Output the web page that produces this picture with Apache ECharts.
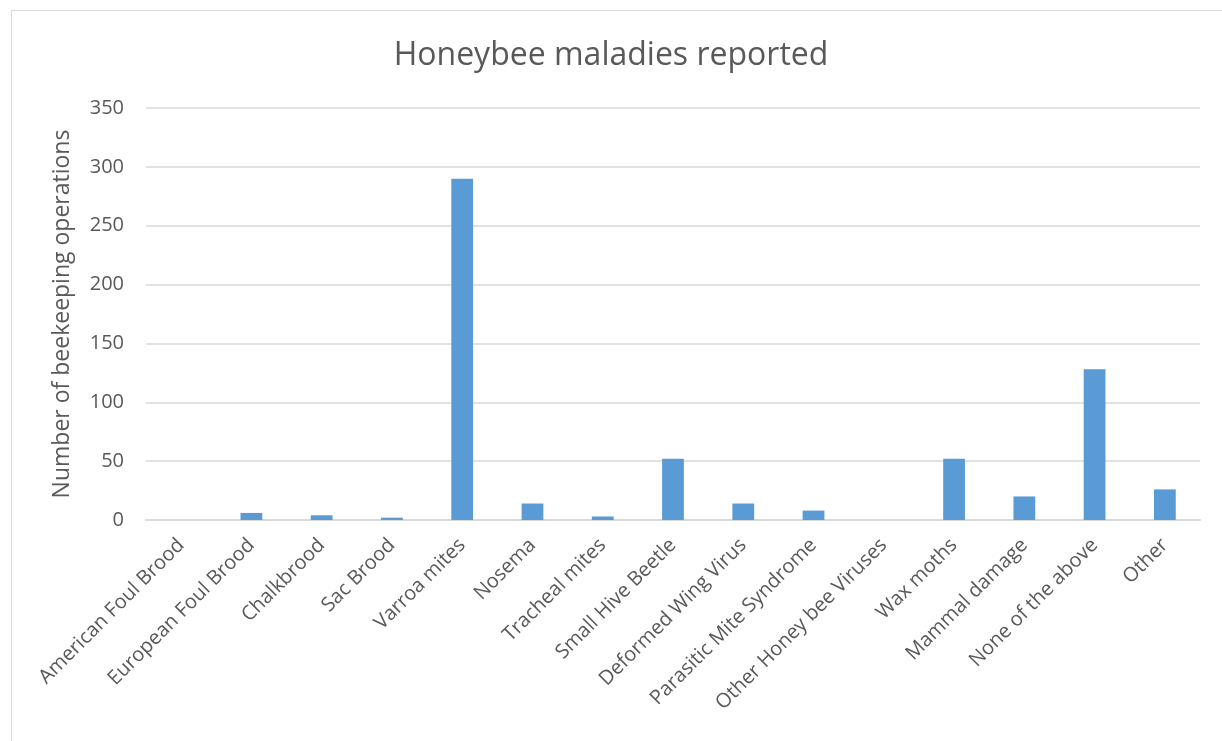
<!DOCTYPE html>
<html>
<head>
<meta charset="utf-8">
<script src="https://cdn.jsdelivr.net/npm/echarts@6/dist/echarts.min.js"></script>
<style>
html,body{margin:0;padding:0;background:#fff;}
#frame{position:absolute;left:11px;top:10px;width:1230px;height:760px;border:1px solid #d9d9d9;box-sizing:border-box;}
#chart{position:absolute;left:0;top:0;width:1222px;height:741px;}
</style>
</head>
<body>
<div id="frame"></div>
<div id="chart"></div>
<script>
const categories = ["American Foul Brood","European Foul Brood","Chalkbrood","Sac Brood","Varroa mites","Nosema","Tracheal mites","Small Hive Beetle","Deformed Wing Virus","Parasitic Mite Syndrome","Other Honey bee Viruses","Wax moths","Mammal damage","None of the above","Other"];
const values = [0,6,4,2,290,14,3,52,14,8,0,52,20,128,26];
const titleText = "Honeybee maladies reported";
const yAxisName = "Number of beekeeping operations";

const chart = echarts.init(document.getElementById('chart'), null, {renderer:'canvas'});
const font = "'Open Sans', 'Liberation Sans', sans-serif";
chart.setOption({
  animation:false,
  title:{text:titleText,left:'center',top:35,textStyle:{fontFamily:font,fontSize:32,fontWeight:'normal',color:'#595959'}},
  grid:{left:146,right:22,top:108,bottom:221,containLabel:false},
  xAxis:{type:'category',data:categories,
    axisLine:{lineStyle:{color:'#d9d9d9',width:2}},
    axisTick:{show:false},
    axisLabel:{rotate:45,interval:0,color:'#595959',fontFamily:font,fontSize:20,margin:22}
  },
  yAxis:{type:'value',min:0,max:350,interval:50,
    name:yAxisName,nameLocation:'middle',nameGap:72,nameRotate:90,
    nameTextStyle:{fontFamily:font,fontSize:23,color:'#595959'},
    axisLine:{show:false},axisTick:{show:false},
    axisLabel:{color:'#595959',fontFamily:font,fontSize:20,margin:22},
    splitLine:{lineStyle:{color:'#d9d9d9',width:1.5}}
  },
  series:[{type:'bar',data:values,barWidth:'31%',itemStyle:{color:'#5b9bd5'}}]
});
</script>
</body>
</html>
